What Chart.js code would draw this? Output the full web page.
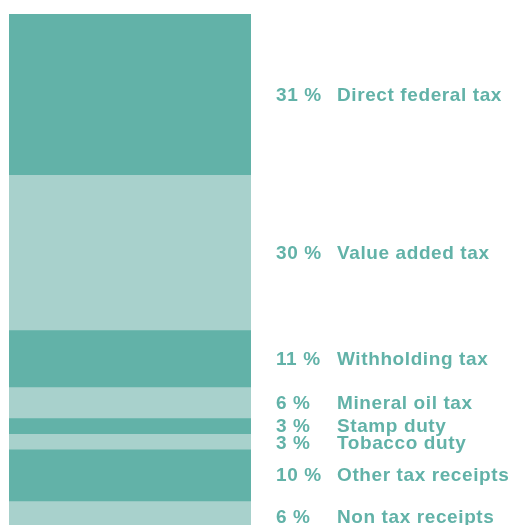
<!DOCTYPE html>
<html lang="en"><head>
<meta charset="utf-8">
<title>Federal receipts</title>
<style>
  html, body { margin: 0; padding: 0; background: #ffffff; overflow: hidden; }
  #wrap { position: relative; width: 516px; height: 545px; }
</style>
</head>
<body>
<div id="wrap"><canvas id="chart"></canvas></div>
<script src="https://cdn.jsdelivr.net/npm/chart.js@4/dist/chart.umd.min.js"></script>
<script>
// receipts, top to bottom
const categories = ["Direct federal tax", "Value added tax", "Withholding tax", "Mineral oil tax",
  "Stamp duty", "Tobacco duty", "Other tax receipts", "Non tax receipts"];
const shares = [31, 30, 11, 6, 3, 3, 10, 6];
const percentLabels = ["31 %", "30 %", "11 %", "6 %", "3 %", "3 %", "10 %", "6 %"];

const dark = "#62b2a8";
const light = "#a8d1cc";

const datasets = categories.map((name, i) => ({
  label: name,
  data: [shares[i]],
  backgroundColor: i % 2 === 0 ? dark : light,
  borderWidth: 0,
  barPercentage: 1,
  categoryPercentage: 1
}));

// write percentage + name next to the middle of each segment,
// pushing a label down when it would run into the one above
const sideLabels = {
  id: "sideLabels",
  afterDatasetsDraw(chart) {
    const ctx = chart.ctx;
    ctx.save();
    ctx.fillStyle = dark;
    ctx.font = "bold 19px 'Liberation Sans', Arial, sans-serif";
    ctx.textBaseline = "middle";
    ctx.letterSpacing = "0.6px";
    let prevY = -100;
    chart.data.datasets.forEach((ds, i) => {
      const bar = chart.getDatasetMeta(i).data[0];
      const y = Math.max((bar.y + bar.base) / 2 + 1, prevY + 17);
      prevY = y;
      ctx.fillText(percentLabels[i], 276, y);
      ctx.fillText(ds.label, 337, y);
    });
    ctx.restore();
  }
};

new Chart(document.getElementById("chart"), {
  type: "bar",
  data: { labels: ["Receipts"], datasets: datasets },
  plugins: [sideLabels],
  options: {
    responsive: true,
    maintainAspectRatio: false,
    animation: false,
    layout: { padding: { top: 14, bottom: 13, left: 9, right: 265 } },
    plugins: { legend: { display: false }, tooltip: { enabled: false } },
    scales: {
      x: { stacked: true, display: false },
      y: { stacked: true, display: false, reverse: true, min: 0, max: 100 }
    }
  }
});
</script>
</body></html>
